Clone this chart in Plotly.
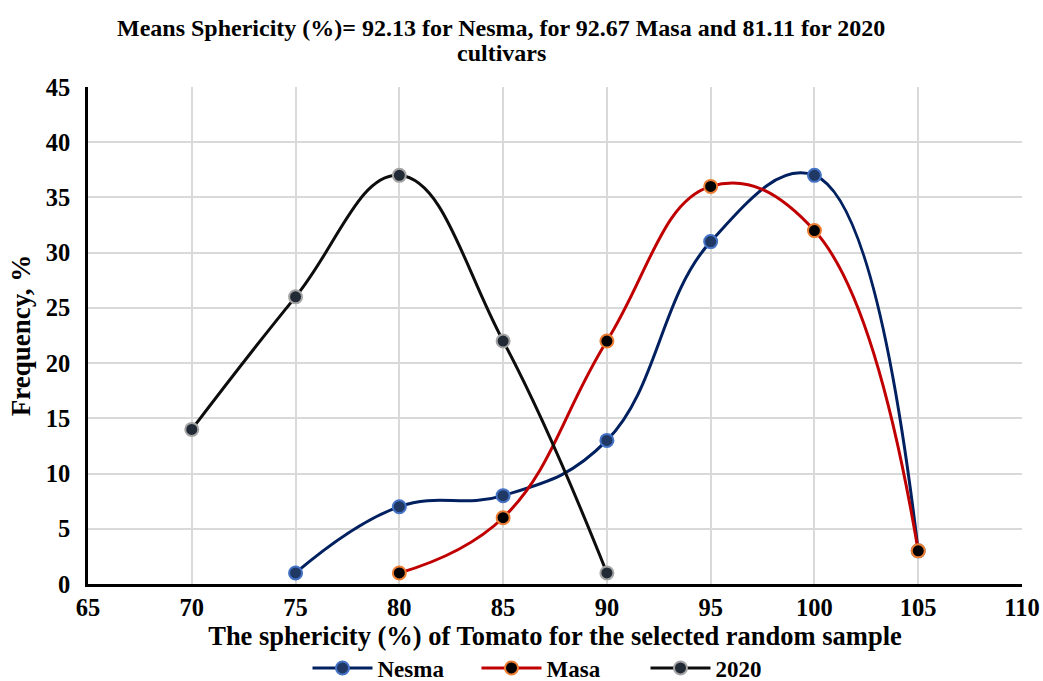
import plotly.graph_objects as go

nesma_x = [75, 80, 85, 90, 95, 100, 105]
nesma_y = [1, 7, 8, 13, 31, 37, 3]
masa_x = [80, 85, 90, 95, 100, 105]
masa_y = [1, 6, 22, 36, 32, 3]
c2020_x = [70, 75, 80, 85, 90]
c2020_y = [14, 26, 37, 22, 1]

title_lines = ["Means Sphericity (%)= 92.13 for Nesma, for 92.67 Masa and 81.11 for 2020",
               "cultivars"]

FONT = "Liberation Serif"

fig = go.Figure()
series = [
    ("Nesma", nesma_x, nesma_y, "#002060", "#203864", "#4472C4"),
    ("Masa", masa_x, masa_y, "#C00000", "#000000", "#ED7D31"),
    ("2020", c2020_x, c2020_y, "#0D0D0D", "#222A35", "#A5A5A5"),
]
for name, xs, ys, lc, mf, mb in series:
    fig.add_trace(go.Scatter(
        x=xs, y=ys, name=name, mode="lines+markers",
        line=dict(color=lc, width=3, shape="spline", smoothing=1.2),
        marker=dict(size=13, color=mf, line=dict(color=mb, width=2)),
    ))

for line, py in zip(title_lines, [28, 53]):
    fig.add_annotation(
        text="<b>" + line + "</b>",
        xref="paper", yref="paper", x=(501 - 88) / 934, y=(584 - py) / 497,
        xanchor="center", yanchor="middle", showarrow=False,
        font=dict(family=FONT, size=24, color="black"),
    )

fig.update_layout(
    width=1043, height=681,
    paper_bgcolor="white", plot_bgcolor="white",
    margin=dict(l=88, r=21, t=87, b=97, autoexpand=False),
    font=dict(family=FONT, color="black", size=17),
    xaxis=dict(
        range=[65, 110], dtick=5, tick0=65,
        showgrid=True, gridcolor="#D9D9D9", gridwidth=1.5,
        showline=True, linecolor="black", linewidth=2.5,
        ticks="", zeroline=False,
        tickfont=dict(family=FONT, size=24.5, color="black", weight="bold"),
        title=dict(text="<b>The sphericity (%) of Tomato for the selected random sample</b>",
                   font=dict(family=FONT, size=26.5, color="black"), standoff=2),
    ),
    yaxis=dict(
        range=[0, 45], dtick=5,
        showgrid=True, gridcolor="#D9D9D9", gridwidth=1.5,
        showline=True, linecolor="black", linewidth=2.5,
        ticks="", zeroline=False, ticklabelstandoff=10,
        tickfont=dict(family=FONT, size=24.5, color="black", weight="bold"),
        title=dict(text="<b>Frequency, %</b>",
                   font=dict(family=FONT, size=27, color="black"), standoff=8),
    ),
    legend=dict(
        orientation="h", x=0.235, xanchor="left", y=(584 - 668) / 497, yanchor="middle",
        font=dict(family=FONT, size=23, color="black", weight="bold"),
        itemwidth=60, tracegroupgap=0, entrywidth=94, entrywidthmode="pixels",
    ),
)

fig.write_html("out.html")
